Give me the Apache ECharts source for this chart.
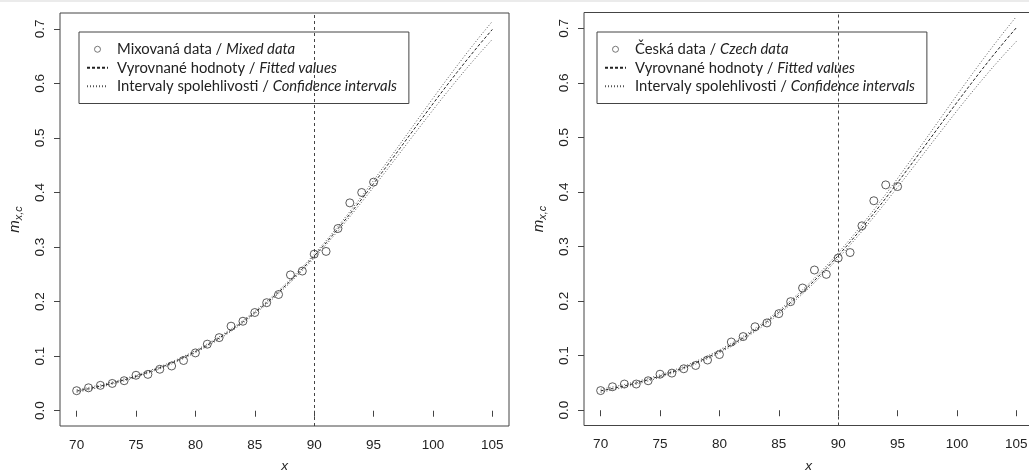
<!DOCTYPE html>
<html>
<head>
<meta charset="utf-8">
<title>m_x,c</title>
<script src="https://cdn.jsdelivr.net/npm/echarts@6.0.0/dist/echarts.min.js"></script>
<style>
    html, body { margin: 0; padding: 0; background: #fff; }
    #topbar { position: absolute; left: 0; top: 0; width: 1029px; height: 2px; background: #ebebeb; z-index: 2; }
    #chart { width: 1029px; height: 470px; }
</style>
</head>
<body>
<div id="topbar"></div>
<div id="chart"></div>
<script>
    // vek / age
    var agesObs = [70, 71, 72, 73, 74, 75, 76, 77, 78, 79, 80, 81, 82, 83, 84, 85, 86, 87, 88, 89, 90, 91, 92, 93, 94, 95];
    var agesFit = [70, 71, 72, 73, 74, 75, 76, 77, 78, 79, 80, 81, 82, 83, 84, 85, 86, 87, 88, 89, 90,
        91, 92, 93, 94, 95, 96, 97, 98, 99, 100, 101, 102, 103, 104, 105];

    // levy panel - mixovana data
    var mixObs = [0.0367, 0.042, 0.0465, 0.050, 0.055, 0.065, 0.0666, 0.076, 0.082, 0.092, 0.106, 0.122, 0.134,
        0.155, 0.164, 0.180, 0.198, 0.213, 0.249, 0.256, 0.287, 0.292, 0.334, 0.381, 0.400, 0.419];
    var mixFit = [0.0360, 0.0403, 0.0451, 0.0505, 0.0565, 0.0631, 0.0704, 0.0786, 0.0875, 0.0975, 0.1083, 0.1203,
        0.1333, 0.1476, 0.1630, 0.1798, 0.1978, 0.2172, 0.2379, 0.2600, 0.2833, 0.3079, 0.3336, 0.3604, 0.3879,
        0.4163, 0.4452, 0.4745, 0.5040, 0.5335, 0.5627, 0.5915, 0.6196, 0.6470, 0.6735, 0.6989];
    var mixUpper = [0.0385, 0.0426, 0.0473, 0.0526, 0.0585, 0.0651, 0.0724, 0.0806, 0.0895, 0.0996, 0.1104, 0.1225,
        0.1356, 0.1500, 0.1655, 0.1824, 0.2005, 0.2200, 0.2409, 0.2632, 0.2867, 0.3116, 0.3377, 0.3650, 0.3930,
        0.4221, 0.4518, 0.4819, 0.5122, 0.5426, 0.5727, 0.6024, 0.6315, 0.6599, 0.6874, 0.7138];
    var mixLower = [0.0338, 0.0382, 0.0431, 0.0486, 0.0546, 0.0612, 0.0685, 0.0767, 0.0856, 0.0955, 0.1063, 0.1182,
        0.1311, 0.1453, 0.1606, 0.1773, 0.1952, 0.2145, 0.2350, 0.2569, 0.2799, 0.3042, 0.3294, 0.3556, 0.3824,
        0.4100, 0.4380, 0.4663, 0.4948, 0.5232, 0.5513, 0.5789, 0.6057, 0.6318, 0.6569, 0.6808];

    // pravy panel - ceska data
    var czObs = [0.036, 0.043, 0.048, 0.048, 0.054, 0.066, 0.068, 0.076, 0.082, 0.092, 0.102, 0.125, 0.135,
        0.153, 0.160, 0.177, 0.199, 0.224, 0.257, 0.249, 0.279, 0.289, 0.338, 0.384, 0.413, 0.410];
    var czFit = [0.0355, 0.0398, 0.0446, 0.0499, 0.0559, 0.0625, 0.0698, 0.0779, 0.0869, 0.0968, 0.1077, 0.1196,
        0.1327, 0.1469, 0.1624, 0.1792, 0.1974, 0.2169, 0.2377, 0.2599, 0.2833, 0.3081, 0.3339, 0.3608, 0.3886,
        0.4171, 0.4463, 0.4757, 0.5054, 0.5350, 0.5644, 0.5933, 0.6216, 0.6491, 0.6756, 0.7011];
    var czUpper = [0.0385, 0.0426, 0.0472, 0.0524, 0.0583, 0.0649, 0.0722, 0.0803, 0.0894, 0.0994, 0.1104, 0.1224,
        0.1356, 0.1499, 0.1656, 0.1826, 0.2010, 0.2207, 0.2418, 0.2643, 0.2881, 0.3134, 0.3397, 0.3672, 0.3957,
        0.4249, 0.4550, 0.4854, 0.5162, 0.5470, 0.5777, 0.6079, 0.6376, 0.6665, 0.6945, 0.7216];
    var czLower = [0.0328, 0.0372, 0.0421, 0.0475, 0.0536, 0.0602, 0.0675, 0.0756, 0.0845, 0.0943, 0.1051, 0.1169,
        0.1299, 0.1440, 0.1593, 0.1759, 0.1939, 0.2132, 0.2337, 0.2555, 0.2785, 0.3027, 0.3279, 0.3541, 0.3811,
        0.4086, 0.4366, 0.4647, 0.4930, 0.5211, 0.5489, 0.5761, 0.6026, 0.6282, 0.6527, 0.6761];

    var xTicks = [70, 75, 80, 85, 90, 95, 100, 105];
    var yTicks = [0, 0.1, 0.2, 0.3, 0.4, 0.5, 0.6, 0.7];
    var cutAge = 90;

    var nameMix = 'Mixovaná data / Mixed data';
    var nameCz = 'Česká data / Czech data';
    var nameFit = 'Vyrovnané hodnoty / Fitted values';
    var nameCi = 'Intervaly spolehlivosti / Confidence intervals';

    function pairs(xs, ys) {
        return xs.map(function (x, i) { return [x, ys[i]]; });
    }

    var axisFont = {fontFamily: 'Liberation Sans', fontSize: 13.5, color: '#222'};
    var noFill = 'rgba(255,255,255,0)';

    var grids = [], xAxes = [], yAxes = [], series = [], legends = [];

    function addPanel(i, left, top, obsName, obs, fit, upper, lower, legendLeft) {
        // pevna poloha, bez zmensovani podle popisku
        grids.push({
            left: left, top: top, width: 449, height: 413,
            outerBoundsMode: 'none', containLabel: false,
            show: true, borderColor: '#444', borderWidth: 1, backgroundColor: 'transparent'
        });
        xAxes.push({
            gridIndex: i, type: 'value', min: 68.6, max: 106.4,
            axisLine: {show: false},
            axisTick: {show: true, length: 6, lineStyle: {color: '#444'}, customValues: xTicks},
            axisLabel: Object.assign({customValues: xTicks, margin: 12}, axisFont),
            splitLine: {show: false},
            name: 'x', nameLocation: 'middle', nameGap: 33.5,
            nameTextStyle: Object.assign({fontStyle: 'italic'}, axisFont)
        });
        yAxes.push({
            gridIndex: i, type: 'value', min: -0.028, max: 0.729,
            axisLine: {show: false},
            axisTick: {show: true, length: 6, lineStyle: {color: '#444'}, customValues: yTicks},
            axisLabel: Object.assign({
                customValues: yTicks, margin: 13, rotate: 90,
                formatter: function (v) { return v.toFixed(1); }
            }, axisFont),
            splitLine: {show: false},
            name: '{m|m}{s|x,c}', nameLocation: 'middle', nameGap: 36,
            nameTextStyle: {
                rich: {
                    m: {fontFamily: 'Liberation Sans', fontStyle: 'italic', fontSize: 15, color: '#222'},
                    s: {fontFamily: 'Liberation Sans', fontStyle: 'italic', fontSize: 11, color: '#222', padding: [8, 0, 0, 0]}
                }
            }
        });
        // data body
        series.push({
            name: obsName, type: 'scatter', xAxisIndex: i, yAxisIndex: i,
            data: pairs(agesObs, obs), symbol: 'circle', symbolSize: 8, z: 4,
            itemStyle: {color: noFill, borderColor: '#333', borderWidth: 1}
        });
        // vyrovnane hodnoty
        series.push({
            name: nameFit, type: 'line', xAxisIndex: i, yAxisIndex: i,
            data: pairs(agesFit, fit), symbol: 'none', z: 3,
            itemStyle: {color: noFill},
            lineStyle: {color: '#222', width: 1, type: [3, 2]},
            markLine: {
                silent: true, symbol: ['none', 'none'], label: {show: false},
                lineStyle: {color: '#444', width: 1, type: [3, 3]},
                data: [{xAxis: cutAge}]
            }
        });
        // intervaly spolehlivosti
        [upper, lower].forEach(function (ys) {
            series.push({
                name: nameCi, type: 'line', xAxisIndex: i, yAxisIndex: i,
                data: pairs(agesFit, ys), symbol: 'none', z: 2,
                itemStyle: {color: noFill},
                lineStyle: {color: '#555', width: 1, type: [1, 2]}
            });
        });
        legends.push({
            left: legendLeft, top: 32, orient: 'vertical',
            itemWidth: 21, itemHeight: 6, itemGap: 0,
            padding: [8, 12, 8, 7],
            borderColor: '#444', borderWidth: 1,
            selectedMode: false,
            data: [
                {name: obsName, itemStyle: {color: noFill, borderColor: '#555', borderWidth: 1}},
                {name: nameFit, itemStyle: {opacity: 0}},
                {name: nameCi, itemStyle: {opacity: 0}}
            ],
            formatter: function (name) {
                var p = name.split(' / ');
                return '{n|' + p[0] + ' / }{i|' + p[1] + '}';
            },
            textStyle: {
                fontFamily: 'Lato', fontSize: 14.8, color: '#222', lineHeight: 18.5, padding: [0, 0, 0, 4],
                rich: {
                    n: {fontFamily: 'Lato', fontSize: 14.8, color: '#222', lineHeight: 18.5},
                    i: {fontFamily: 'Lato', fontSize: 14.8, color: '#222', lineHeight: 18.5, fontStyle: 'italic'}
                }
            }
        });
    }

    addPanel(0, 60, 13, nameMix, mixObs, mixFit, mixUpper, mixLower, 79);
    addPanel(1, 584, 12.5, nameCz, czObs, czFit, czUpper, czLower, 597);

    var chart = echarts.init(document.getElementById('chart'));
    chart.setOption({
        animation: false,
        backgroundColor: '#fff',
        grid: grids,
        xAxis: xAxes,
        yAxis: yAxes,
        legend: legends,
        series: series
    });
</script>
</body>
</html>
